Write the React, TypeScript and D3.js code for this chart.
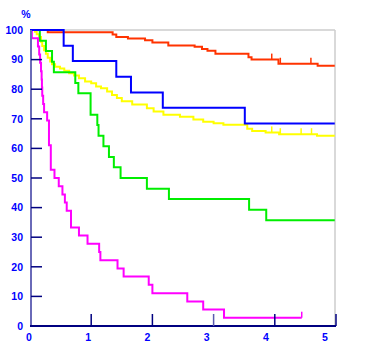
import React from 'react';
import * as d3 from 'd3';

// years since start / survival %
const redTimes = [0.29, 1.35, 1.41, 1.6, 1.88, 2.0, 2.26, 2.69, 2.81, 2.9, 3.03, 3.57, 3.62, 4.06, 4.7];
const redValues = [99.2, 98.5, 97.6, 97.1, 96.5, 95.8, 94.8, 94.3, 93.6, 93.0, 92.0, 90.8, 90.0, 88.6, 87.9];
const redCensor = [3.95, 4.09, 4.59];

const yellowTimes = [0.08, 0.11, 0.15, 0.18, 0.2, 0.23, 0.26, 0.29, 0.33, 0.36, 0.41, 0.49, 0.56, 0.64, 0.72, 0.8, 0.9, 1.0, 1.08, 1.16, 1.26, 1.34, 1.42, 1.5, 1.67, 1.91, 2.02, 2.18, 2.45, 2.67, 2.83, 3.0, 3.16, 3.55, 3.63, 3.85, 4.07, 4.69];
const yellowValues = [99.4, 98.6, 97.6, 96.0, 94.6, 93.2, 92.0, 90.6, 89.4, 88.4, 87.6, 87.0, 86.2, 85.4, 84.6, 83.7, 82.6, 82.0, 80.9, 80.3, 79.2, 78.0, 77.0, 75.9, 74.8, 73.6, 72.5, 71.4, 70.7, 69.8, 69.0, 68.5, 68.0, 66.6, 65.9, 65.4, 64.8, 64.3];
const yellowCensor = [3.95, 4.09, 4.43, 4.6];

const greenTimes = [0.16, 0.26, 0.36, 0.39, 0.74, 0.79, 0.99, 1.1, 1.12, 1.2, 1.29, 1.37, 1.48, 1.91, 2.27, 3.58, 3.86];
const greenValues = [96.4, 92.9, 89.3, 85.7, 82.1, 78.6, 71.4, 67.9, 64.3, 60.7, 57.1, 53.6, 50.0, 46.4, 42.9, 39.3, 35.7];

const blueTimes = [0.55, 0.7, 1.41, 1.65, 2.17, 3.51];
const blueValues = [94.7, 89.5, 84.2, 78.9, 73.7, 68.4];

const magentaTimes = [0.03, 0.13, 0.15, 0.165, 0.18, 0.19, 0.195, 0.2, 0.215, 0.23, 0.28, 0.31, 0.34, 0.4, 0.47, 0.53, 0.57, 0.6, 0.67, 0.8, 0.94, 1.13, 1.15, 1.43, 1.53, 1.94, 2.0, 2.57, 2.83, 3.17];
const magentaValues = [97.2, 94.4, 91.7, 88.9, 86.1, 83.3, 80.6, 77.8, 75.0, 72.2, 69.4, 61.1, 52.8, 50.0, 47.2, 44.4, 41.7, 38.9, 33.3, 30.6, 27.8, 25.0, 22.2, 19.4, 16.7, 13.9, 11.1, 8.3, 5.6, 2.8];
const magentaCensor = [4.44];

const xTicks = [0, 1, 2, 3, 4, 5];
const yTicks = [0, 10, 20, 30, 40, 50, 60, 70, 80, 90, 100];

export default function App() {
  const x = d3.scaleLinear().domain([0, 5]).range([30, 336]);
  const xLab = d3.scaleLinear().domain([0, 5]).range([29, 325]);
  const y = d3.scaleLinear().domain([0, 100]).range([326, 30]);

  const line = d3.line<[number, number]>()
    .x((d) => x(d[0]))
    .y((d) => y(d[1]))
    .curve(d3.curveStepAfter);

  const series = [
    { times: redTimes, values: redValues, censor: redCensor, color: '#ff3300', end: 4.98 },
    { times: yellowTimes, values: yellowValues, censor: yellowCensor, color: '#ffff00', end: 4.98 },
    { times: greenTimes, values: greenValues, censor: [] as number[], color: '#00ee00', end: 4.98 },
    { times: magentaTimes, values: magentaValues, censor: magentaCensor, color: '#ff00ff', end: 4.44 },
    { times: blueTimes, values: blueValues, censor: [] as number[], color: '#0000ff', end: 4.98 },
  ];

  const valueAt = (s: typeof series[0], t: number) => {
    let v = 100;
    s.times.forEach((tt, i) => { if (tt <= t) v = s.values[i]; });
    return v;
  };

  const font = '"Liberation Sans", Arial, sans-serif';

  return (
    <svg width={365} height={360} style={{ position: 'absolute', left: 0, top: 0, background: '#fff' }}>
      {/* frame */}
      <line x1={30} x2={335} y1={y(100)} y2={y(100)} stroke="#cccccc" strokeWidth={1.5} />
      <line x1={335} x2={335} y1={y(100)} y2={y(0)} stroke="#cccccc" strokeWidth={1.5} />

      {/* curves */}
      {series.map((s, i) => {
        const pts: [number, number][] = [[0, 100], ...s.times.map((t, j) => [t, s.values[j]] as [number, number]), [s.end, s.values[s.values.length - 1]]];
        return (
          <g key={i}>
            <path d={line(pts) || ''} fill="none" stroke={s.color} strokeWidth={2} />
            {s.censor.map((c, k) => (
              <line key={k} x1={x(c)} x2={x(c)} y1={y(valueAt(s, c))} y2={y(valueAt(s, c)) - 6} stroke={s.color} strokeWidth={1.5} />
            ))}
          </g>
        );
      })}

      {/* y axis */}
      <line x1={31} x2={31} y1={y(100)} y2={y(0)} stroke="#6a6ab8" strokeWidth={2} />
      {yTicks.filter((t) => t > 0 && t < 100).map((t) => (
        <line key={t} x1={31} x2={42} y1={y(t)} y2={y(t)} stroke="#000080" strokeWidth={1.5} />
      ))}
      {yTicks.map((t) => (
        <text key={t} x={23} y={y(t)} dy="0.36em" textAnchor="end" fontFamily={font} fontWeight="bold" fontSize={10.5} fill="#0000ff">{t}</text>
      ))}
      <text x={26} y={14} dy="0.36em" textAnchor="middle" fontFamily={font} fontWeight="bold" fontSize={10.5} fill="#0000ff">%</text>

      {/* x axis */}
      <line x1={30} x2={336} y1={y(0)} y2={y(0)} stroke="#000080" strokeWidth={2} />
      {xTicks.filter((t) => t > 0).map((t) => (
        <line key={t} x1={x(t)} x2={x(t)} y1={y(0)} y2={y(0) - 12} stroke={t === 3 ? '#5a5ab0' : '#000080'} strokeWidth={1.5} />
      ))}
      {xTicks.map((t) => (
        <text key={t} x={xLab(t)} y={337} dy="0.36em" textAnchor="middle" fontFamily={font} fontWeight="bold" fontSize={10.5} fill="#0000ff">{t}</text>
      ))}
    </svg>
  );
}
